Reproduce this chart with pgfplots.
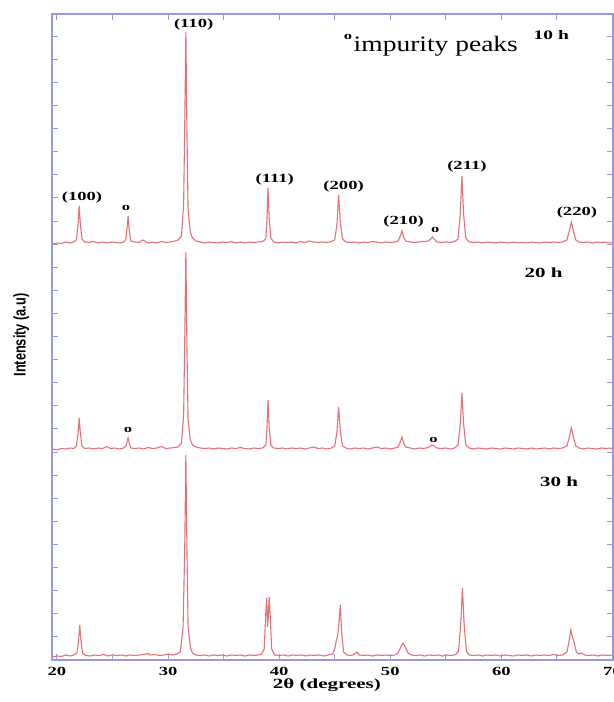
\documentclass[border=0pt]{standalone}
\usepackage{fontspec}
\setmainfont{Liberation Serif}
\newfontfamily\widefont[FakeStretch=1.5]{Liberation Serif}
\newfontfamily\midfont[FakeStretch=1.25]{Liberation Serif}
\newfontfamily\narrowfont[FakeStretch=0.75]{Liberation Sans}
\usepackage{pgfplots}
\pgfplotsset{compat=1.18}
\definecolor{xrdred}{RGB}{228,112,122}
\definecolor{frameblue}{RGB}{150,155,225}
\newcommand{\pk}{\widefont\bfseries\fontsize{6.2}{7}\selectfont}
\newcommand{\imp}{\widefont\bfseries\fontsize{5.5}{5.5}\selectfont}

\begin{document}
\begin{tikzpicture}
\begin{axis}[
  scale only axis, width=280.5pt, height=323pt,
  xmin=19.55, xmax=70.05, ymin=0, ymax=646,
  axis line style={frameblue, line width=0.6pt},
  xtick={20,30,...,70}, minor xtick={25,35,...,65},
  ytick={0,23.1,...,646}, yticklabels={},
  tick style={frameblue, line width=0.5pt},
  major tick length=3pt, minor tick length=3pt,
  xtick pos=both, ytick pos=both, tick align=inside,
  xticklabel style={font=\pk},
  /pgf/number format/assume math mode=true,
  xlabel={2θ (degrees)},
  xlabel style={font=\widefont\bfseries\fontsize{7}{8}\selectfont,
    at={(axis description cs:0.49,0)}, anchor=center, yshift=-12.5pt},
  ylabel={Intensity (a.u)},
  ylabel style={font=\narrowfont\bfseries\fontsize{8.5}{9}\selectfont,
    at={(axis description cs:-0.055,0.503)}, anchor=center},
  every axis plot/.append style={xrdred, line width=0.55pt, no markers},
]
% 10 h
\addplot[y filter/.expression={y+416}] coordinates {
(19.6,0) (20.0,1) (20.4,0.5) (20.8,2) (21.2,1) (21.5,2) (21.75,4) (21.9,20) (22.0,38) (22.1,20) (22.25,5)
(22.5,2) (22.9,1.5) (23.3,2.5) (23.7,1) (24.1,2) (24.5,1) (24.9,2) (25.3,1.5) (25.7,1) (26.0,2)
(26.2,5) (26.3,15) (26.4,28) (26.5,14) (26.65,3) (27.0,2) (27.4,1.5) (27.7,4) (27.9,3) (28.2,1)
(28.6,2) (29.0,1) (29.4,2.5) (29.8,1.5) (30.2,2) (30.6,3) (30.9,4) (31.2,8) (31.4,40) (31.5,120)
(31.6,212) (31.7,110) (31.8,35) (32.0,12) (32.2,6) (32.5,3) (32.9,2) (33.3,1) (33.7,2) (34.1,1.5)
(34.5,1) (34.9,2) (35.3,1.5) (35.7,2.5) (36.1,1) (36.5,2) (36.9,1) (37.3,2) (37.7,1.5) (38.1,2)
(38.5,2.5) (38.8,5) (38.9,25) (39.0,56) (39.1,26) (39.25,6) (39.5,2) (39.9,1) (40.3,2) (40.7,1.5)
(41.1,2) (41.5,1) (41.9,2.5) (42.3,1.5) (42.7,3) (43.1,2) (43.5,1.5) (43.9,2) (44.3,1.5) (44.7,2.5)
(45.0,4) (45.2,20) (45.35,49) (45.5,22) (45.7,5) (46.0,2) (46.4,1.5) (46.8,2) (47.2,1) (47.6,2)
(48.0,1.5) (48.4,2.5) (48.8,2) (49.2,1) (49.6,2) (50.0,1.5) (50.4,2) (50.7,3) (50.9,8) (51.05,13)
(51.2,7) (51.4,3) (51.8,2) (52.2,1.5) (52.6,2) (53.0,2.5) (53.4,3) (53.65,5) (53.8,7) (53.95,5)
(54.2,2) (54.6,1.5) (55.0,2) (55.4,1.5) (55.8,2.5) (56.1,5) (56.3,30) (56.45,68) (56.6,30) (56.8,6)
(57.1,2) (57.5,1.5) (57.9,2) (58.3,1) (58.7,2) (59.1,1.5) (59.5,1) (59.9,2) (60.3,1.5) (60.7,1)
(61.1,2) (61.5,1) (61.9,1.5) (62.3,1) (62.7,2) (63.1,1.5) (63.5,1) (63.9,2) (64.3,1.5) (64.7,2)
(65.1,1.5) (65.5,2) (65.9,4) (66.1,12) (66.3,22) (66.5,12) (66.7,4) (67.0,2) (67.4,1.5) (67.8,2)
(68.2,1) (68.6,2) (69.0,1.5) (69.4,2) (69.8,1) (70.0,1.5)
};
% 20 h
\addplot[y filter/.expression={y+210}] coordinates {
(19.6,1) (20.0,0) (20.4,1.5) (20.8,1) (21.2,2) (21.5,1.5) (21.75,4) (21.9,17) (22.0,32) (22.1,17) (22.25,4)
(22.5,1.5) (22.9,2) (23.3,1) (23.7,2) (24.1,1.5) (24.5,3.5) (24.8,1.5) (25.2,2) (25.6,1) (26.0,2)
(26.2,4) (26.3,8) (26.4,12) (26.5,7) (26.65,2) (27.0,1.5) (27.4,2) (27.8,1) (28.2,2.5) (28.6,1.5)
(29.0,2) (29.4,3.5) (29.8,1.5) (30.2,2) (30.6,2.5) (30.9,3) (31.2,7) (31.4,35) (31.5,110) (31.6,198)
(31.7,100) (31.8,30) (32.0,10) (32.2,5) (32.5,3) (32.9,2) (33.3,1.5) (33.7,2) (34.1,1) (34.5,2)
(34.9,1.5) (35.3,1) (35.7,2) (36.1,1.5) (36.5,2.5) (36.9,1.5) (37.3,1) (37.7,2) (38.1,1.5) (38.5,2)
(38.8,5) (38.9,22) (39.0,50) (39.1,23) (39.25,5) (39.5,2) (39.9,1.5) (40.3,2) (40.7,1) (41.1,2)
(41.5,1.5) (41.9,2) (42.3,1) (42.7,2) (43.1,3) (43.5,1.5) (43.9,2) (44.3,1) (44.7,2) (45.0,4)
(45.2,18) (45.35,43) (45.5,19) (45.7,4) (46.0,2) (46.4,1) (46.8,2) (47.2,1.5) (47.6,2) (48.0,1)
(48.4,2) (48.8,3) (49.2,1.5) (49.6,2) (50.0,1) (50.4,2) (50.7,3) (50.9,8) (51.05,13) (51.2,7)
(51.4,3) (51.8,2) (52.2,1) (52.6,2) (53.0,1.5) (53.4,2.5) (53.65,4) (53.8,5) (53.95,4) (54.2,2)
(54.6,1.5) (55.0,2) (55.4,1) (55.8,2) (56.1,5) (56.3,26) (56.45,57) (56.6,26) (56.8,5) (57.1,2)
(57.5,1) (57.9,2) (58.3,1.5) (58.7,1) (59.1,2) (59.5,1.5) (59.9,1) (60.3,2) (60.7,1.5) (61.1,1)
(61.5,2) (61.9,1.5) (62.3,1) (62.7,2) (63.1,1) (63.5,1.5) (63.9,2) (64.3,1) (64.7,2) (65.1,1.5)
(65.5,2) (65.9,4) (66.1,12) (66.3,22) (66.5,12) (66.7,4) (67.0,2) (67.4,1) (67.8,2) (68.2,1.5)
(68.6,1) (69.0,2) (69.4,1.5) (69.8,2) (70.0,1)
};
% 30 h
\addplot[y filter/.expression={y+3}] coordinates {
(19.6,0) (20.0,1) (20.4,0.5) (20.8,2) (21.2,1) (21.5,2) (21.8,4) (21.95,17) (22.05,32) (22.15,17) (22.3,4)
(22.6,1.5) (23.0,1) (23.4,2) (23.8,1.5) (24.2,2.5) (24.6,1) (25.0,2) (25.4,1.5) (25.8,2) (26.2,1)
(26.6,2) (27.0,1.5) (27.4,2) (27.8,2.5) (28.2,3.5) (28.4,2) (28.8,2.5) (29.2,1.5) (29.6,2) (30.0,3)
(30.4,2) (30.8,3) (31.1,5) (31.35,30) (31.5,110) (31.6,202) (31.7,105) (31.8,30) (32.0,10) (32.2,4)
(32.5,2) (32.9,1.5) (33.3,2) (33.7,1) (34.1,2) (34.5,1.5) (34.9,2) (35.3,1) (35.7,2) (36.1,1.5)
(36.5,2) (36.9,1) (37.3,2) (37.7,1.5) (38.1,2) (38.4,3) (38.65,8) (38.8,45) (38.88,59) (38.96,30)
(39.02,40) (39.1,60) (39.2,40) (39.32,8) (39.6,2) (40.0,1.5) (40.4,2) (40.8,1) (41.2,2) (41.6,1.5)
(42.0,2) (42.4,1) (42.8,2) (43.2,1.5) (43.6,2) (44.0,1) (44.4,2) (44.8,3) (45.0,8) (45.15,17)
(45.25,20) (45.35,30) (45.5,52) (45.62,25) (45.8,5) (46.1,2) (46.5,1.5) (46.8,3) (47.0,5) (47.2,2)
(47.6,1.5) (48.0,2) (48.4,1) (48.8,2) (49.2,1.5) (49.6,2) (50.0,1.5) (50.4,2) (50.7,4) (50.95,10)
(51.15,14) (51.35,10) (51.6,4) (51.9,2) (52.3,1.5) (52.7,2) (53.1,1) (53.5,2) (53.9,1.5) (54.3,2)
(54.7,1) (55.1,2) (55.5,1.5) (55.9,2.5) (56.15,6) (56.35,35) (56.5,69) (56.65,32) (56.85,6) (57.1,2)
(57.5,1.5) (57.9,2) (58.3,1) (58.7,2) (59.1,1.5) (59.5,2) (59.9,1) (60.3,2) (60.7,1.5) (61.1,1)
(61.5,2) (61.9,1.5) (62.3,2) (62.7,1) (63.1,2) (63.5,1.5) (63.9,2) (64.3,1.5) (64.7,2.5) (65.1,1.5)
(65.5,2) (65.9,5) (66.1,16) (66.25,27) (66.4,20) (66.55,15) (66.75,5) (67.0,3) (67.2,4) (67.5,2)
(67.9,1.5) (68.3,2) (68.7,1) (69.1,2) (69.5,1.5) (70.0,2)
};
% annotations
\node[font=\pk] at (axis cs:32.3,635) {(110)};
\node[font=\pk] at (axis cs:22.25,462) {(100)};
\node[font=\imp] at (axis cs:26.2,452) {o};
\node[font=\pk] at (axis cs:39.6,480) {(111)};
\node[font=\pk] at (axis cs:45.8,473) {(200)};
\node[font=\pk] at (axis cs:51.2,438) {(210)};
\node[font=\imp] at (axis cs:54.05,430) {o};
\node[font=\pk] at (axis cs:56.9,493) {(211)};
\node[font=\pk] at (axis cs:66.8,447) {(220)};
\node[font=\imp] at (axis cs:46.2,623) {o};
\node[font=\midfont\fontsize{11}{12}\selectfont] at (axis cs:54.1,614) {impurity peaks};
\node[font=\widefont\bfseries\fontsize{6.5}{7}\selectfont] at (axis cs:64.5,625) {10 h};
\node[font=\widefont\bfseries\fontsize{7}{8}\selectfont] at (axis cs:63.8,387) {20 h};
\node[font=\imp] at (axis cs:26.4,230) {o};
\node[font=\imp] at (axis cs:53.9,220) {o};
\node[font=\widefont\bfseries\fontsize{7}{8}\selectfont] at (axis cs:65.2,178) {30 h};
\end{axis}
\pgfresetboundingbox
\path (-26pt,-21pt) rectangle (281pt,330pt);
\end{tikzpicture}
\end{document}
